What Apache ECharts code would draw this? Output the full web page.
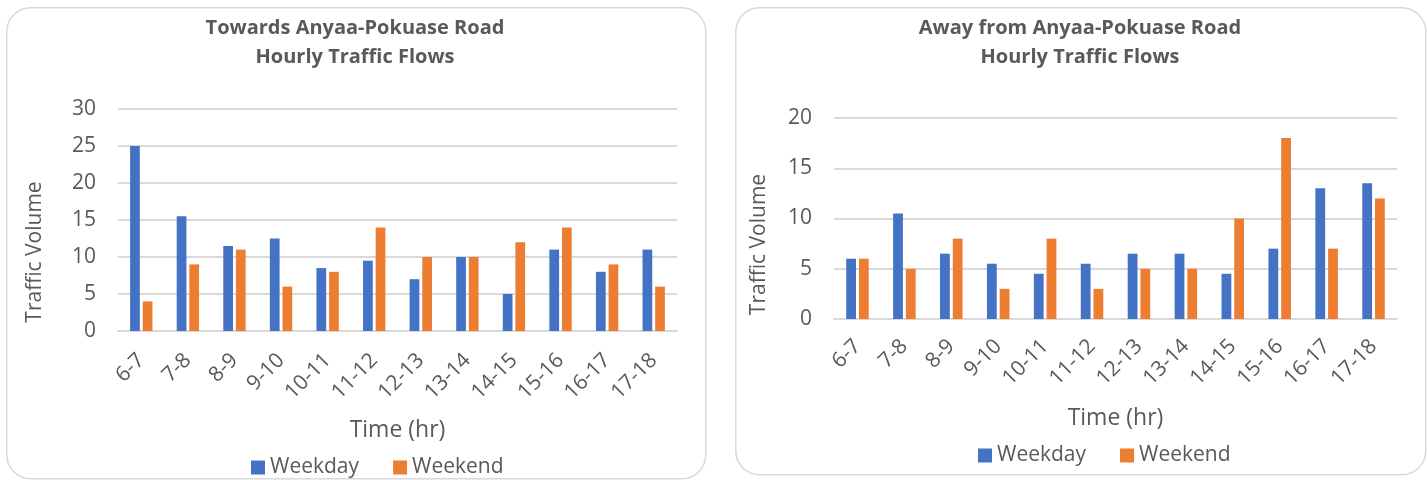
<!DOCTYPE html>
<html>
<head>
<meta charset="utf-8">
<title>Hourly Traffic Flows – Anyaa-Pokuase Road</title>
<script src="https://cdn.jsdelivr.net/npm/echarts@6/dist/echarts.min.js"></script>
<style>
  html, body { margin: 0; padding: 0; background: #ffffff; }
  #chart { width: 1427px; height: 480px; }
</style>
</head>
<body>
<div id="chart"></div>
<script>
// Hourly time bands (shared by both directions)
const hours = ['6-7', '7-8', '8-9', '9-10', '10-11', '11-12', '12-13', '13-14', '14-15', '15-16', '16-17', '17-18'];

// Traffic towards Anyaa-Pokuase Road
const towardsWeekday = [25, 15.5, 11.5, 12.5, 8.5, 9.5, 7, 10, 5, 11, 8, 11];
const towardsWeekend = [4, 9, 11, 6, 8, 14, 10, 10, 12, 14, 9, 6];

// Traffic away from Anyaa-Pokuase Road
const awayWeekday = [6, 10.5, 6.5, 5.5, 4.5, 5.5, 6.5, 6.5, 4.5, 7, 13, 13.5];
const awayWeekend = [6, 5, 8, 3, 8, 3, 5, 5, 10, 18, 7, 12];

const seriesNames = ['Weekday', 'Weekend'];
const titles = ['Towards Anyaa-Pokuase Road\nHourly Traffic Flows', 'Away from Anyaa-Pokuase Road\nHourly Traffic Flows'];

const FONT = '"Open Sans", "Noto Sans", sans-serif';
const TEXT = '#595959';
const GRID_LINE = '#d9d9d9';
const BLUE = '#4472C4';
const ORANGE = '#ED7D31';

// Value axis; the title is nudged down along the axis via padding
function yAxis(gridIndex, max, gap, shift) {
  return {
    type: 'value', gridIndex: gridIndex, min: 0, max: max, interval: 5,
    name: 'Traffic Volume', nameLocation: 'middle', nameGap: gap, nameRotate: 90,
    nameTextStyle: { fontFamily: FONT, fontSize: 21, color: TEXT, padding: [0, shift * 2, 0, 0] },
    axisLine: { show: false }, axisTick: { show: false },
    axisLabel: { fontFamily: FONT, fontSize: 21, color: TEXT, margin: 22 },
    splitLine: { lineStyle: { color: GRID_LINE, width: 2 } }
  };
}

function xAxis(gridIndex, labelMargin) {
  return {
    type: 'category', gridIndex: gridIndex, data: hours,
    name: 'Time (hr)', nameLocation: 'middle', nameGap: 88,
    nameTextStyle: { fontFamily: FONT, fontSize: 23, color: TEXT },
    axisLine: { lineStyle: { color: GRID_LINE, width: 2 } },
    axisTick: { show: false },
    axisLabel: { fontFamily: FONT, fontSize: 21, color: TEXT, rotate: 45, margin: labelMargin, interval: 0 }
  };
}

function bars(name, data, idx, color) {
  return {
    name: name, type: 'bar', xAxisIndex: idx, yAxisIndex: idx, data: data,
    barGap: '30%', barCategoryGap: '52%',
    itemStyle: { color: color },
    emphasis: { disabled: true }
  };
}

function legend(left, top) {
  return {
    data: seriesNames, left: left, top: top, itemWidth: 14, itemHeight: 14, itemGap: 34,
    icon: 'rect', textStyle: { fontFamily: FONT, fontSize: 21, color: TEXT }
  };
}

function panel(x, y, w, h) {
  return {
    type: 'rect', left: x, top: y, silent: true, z: -1,
    shape: { width: w, height: h, r: 24 },
    style: { fill: '#ffffff', stroke: GRID_LINE, lineWidth: 1.5 }
  };
}

const titleStyle = { fontFamily: FONT, fontSize: 20, fontWeight: 'bold', color: TEXT, lineHeight: 29 };

const chart = echarts.init(document.getElementById('chart'), null, { renderer: 'canvas' });
chart.setOption({
  animation: false,
  backgroundColor: '#ffffff',
  color: [BLUE, ORANGE],
  graphic: [panel(6, 7, 699, 471), panel(735, 7, 690, 467)],
  title: [
    { text: titles[0], left: 350, top: 9, textAlign: 'center', textStyle: titleStyle },
    { text: titles[1], left: 1075, top: 9, textAlign: 'center', textStyle: titleStyle }
  ],
  legend: [legend(246, 452), legend(973, 440)],
  grid: [
    { left: 118, top: 109, width: 559, height: 222 },
    { left: 834, top: 118, width: 563, height: 201 }
  ],
  xAxis: [xAxis(0, 26), xAxis(1, 24)],
  yAxis: [yAxis(0, 30, 72, 32), yAxis(1, 20, 64, 26)],
  series: [
    bars(seriesNames[0], towardsWeekday, 0, BLUE),
    bars(seriesNames[1], towardsWeekend, 0, ORANGE),
    bars(seriesNames[0], awayWeekday, 1, BLUE),
    bars(seriesNames[1], awayWeekend, 1, ORANGE)
  ]
});
</script>
</body>
</html>
